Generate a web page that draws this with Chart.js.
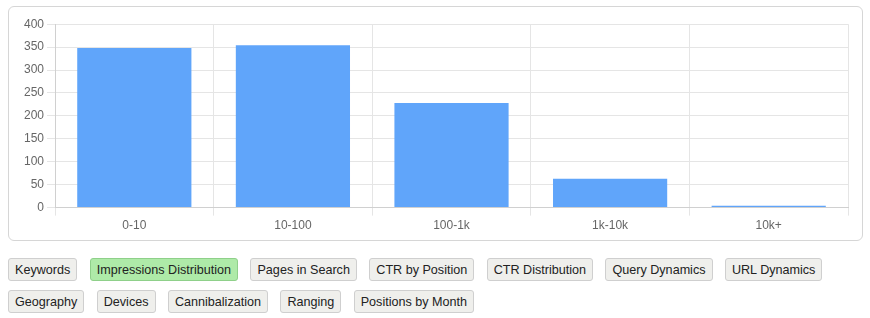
<!DOCTYPE html>
<html lang="en">
<head>
    <meta charset="UTF-8">
    <title>Impressions Distribution</title>
    <script src="https://cdn.jsdelivr.net/npm/chart.js"></script>
    <style>
        body { margin: 0; font-family: "Liberation Sans", Arial, sans-serif; background: #fff; }
        .card {
            position: absolute; left: 8px; top: 6px; width: 833px; height: 222px;
            border: 1px solid #d6d6d6; border-radius: 6px; padding: 7px 10px 4px 10px;
        }
        .tabs { position: absolute; left: 8px; top: 258px; width: 860px; }
        .tabs button {
            font-family: "Liberation Sans", Arial, sans-serif; font-size: 12.6px; color: #222;
            background: #efefec; border: 1px solid #cfcfcf; border-radius: 3px;
            padding: 3px 6px; height: 23px; margin: 0 12.4px 9px 0; float: left;
        }
        .tabs button.active { background: #aeeaa8; border-color: #8fd08a; }
    </style>
</head>
<body>
    <div class="card">
        <canvas id="myChart" width="833" height="222"></canvas>
    </div>
    <div class="tabs">
        <button>Keywords</button>
        <button class="active">Impressions Distribution</button>
        <button>Pages in Search</button>
        <button>CTR by Position</button>
        <button>CTR Distribution</button>
        <button>Query Dynamics</button>
        <button>URL Dynamics</button>
        <br style="clear:both">
        <button>Geography</button>
        <button>Devices</button>
        <button>Cannibalization</button>
        <button>Ranging</button>
        <button>Positions by Month</button>
    </div>

    <script>
        // position buckets and impressions count
        const labels = ['0-10', '10-100', '100-1k', '1k-10k', '10k+'];
        const impressions = [348, 354, 228, 63, 4];
        const yTicks = [0, 50, 100, 150, 200, 250, 300, 350, 400];

        Chart.defaults.font.family = '"Liberation Sans", Arial, sans-serif';
        Chart.defaults.font.size = 12;
        Chart.defaults.color = '#666';

        new Chart(document.getElementById('myChart'), {
            type: 'bar',
            data: {
                labels: labels,
                datasets: [{
                    label: 'Impressions',
                    data: impressions,
                    backgroundColor: '#60a5fa',
                    borderWidth: 0
                }]
            },
            options: {
                responsive: false,
                animation: false,
                layout: { padding: { left: 2, right: 4 } },
                plugins: { legend: { display: false }, tooltip: { enabled: false } },
                scales: {
                    x: {
                        grid: { color: '#e5e5e5', tickLength: 8 },
                        border: { color: '#d0d0d0' }
                    },
                    y: {
                        min: 0, max: 400,
                        afterBuildTicks: axis => { axis.ticks = yTicks.map(v => ({ value: v })); },
                        grid: { color: '#e5e5e5', tickLength: 8 },
                        border: { color: '#d0d0d0' }
                    }
                }
            }
        });
    </script>
</body>
</html>
